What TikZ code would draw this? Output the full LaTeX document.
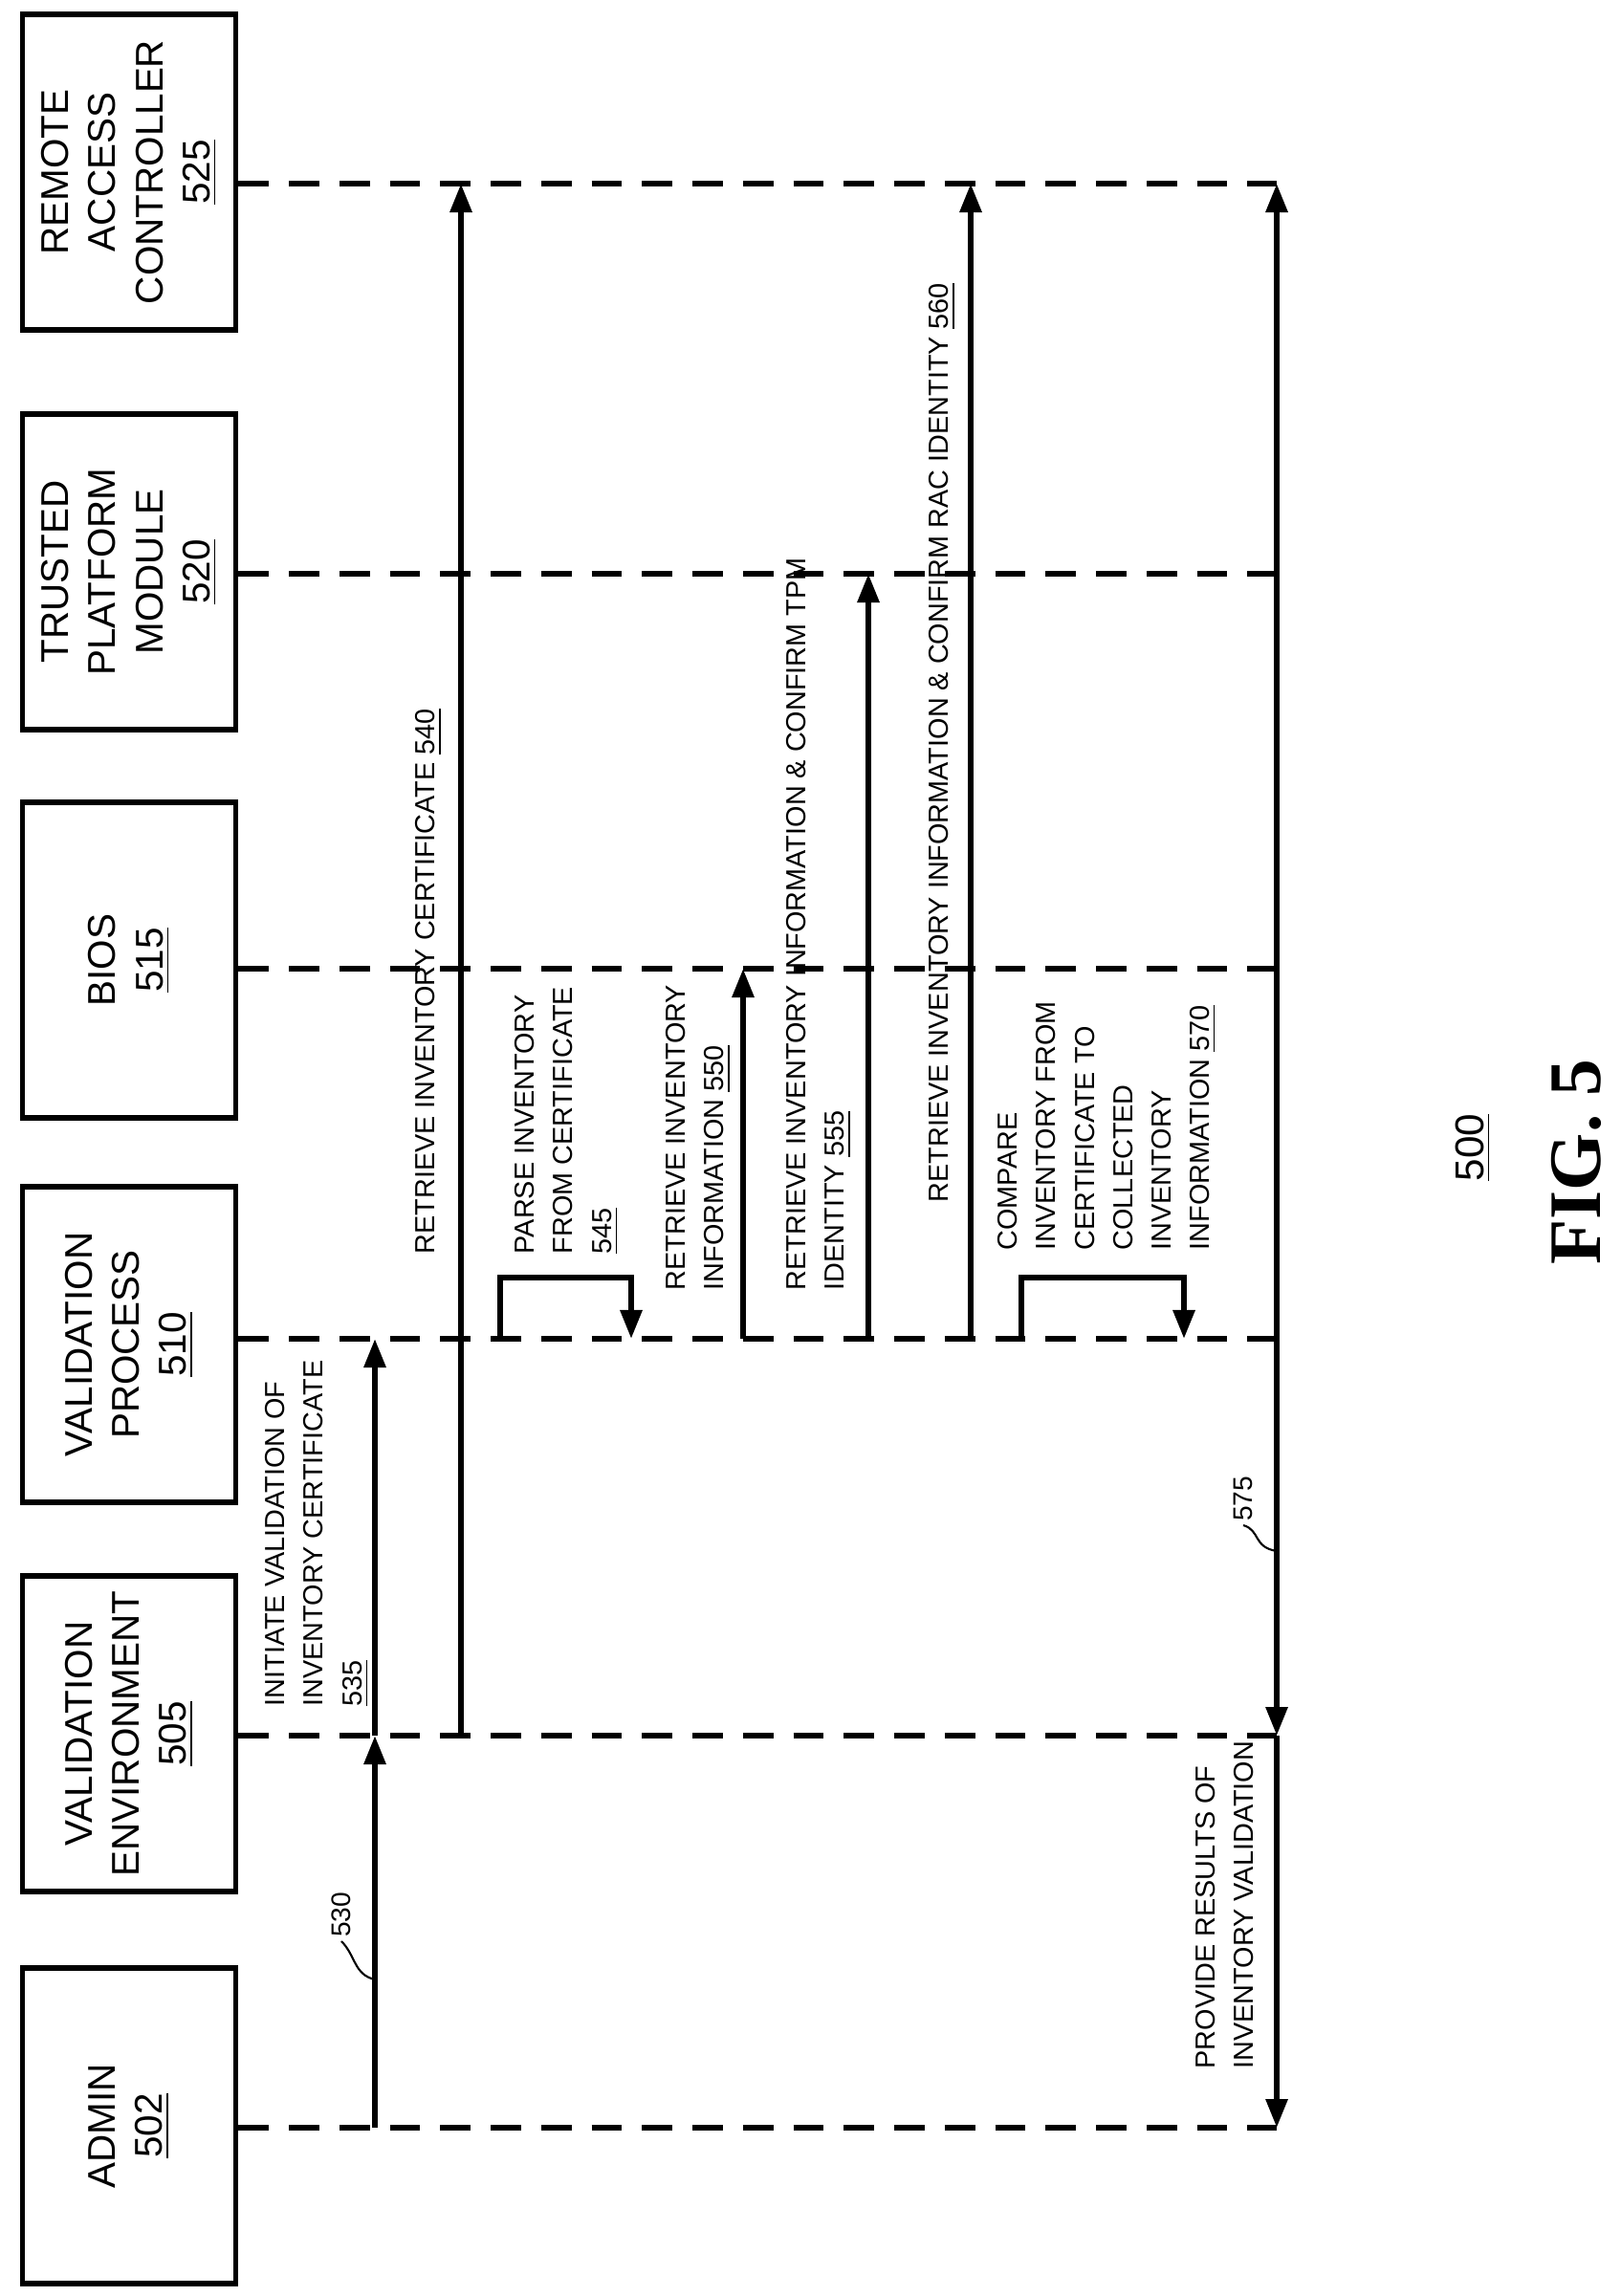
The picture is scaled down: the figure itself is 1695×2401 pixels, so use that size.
\documentclass[tikz,border=0pt]{standalone}
\usepackage{fontspec}
\setmainfont{Liberation Sans}
\newfontfamily\figfont{Liberation Serif}
\usetikzlibrary{arrows.meta,shadows}
\begin{document}
\begin{tikzpicture}[x=0.01cm, y=-0.01cm,
    box/.style={draw, fill=white, line width=1.6pt, rotate=90, minimum width=3.3cm, minimum height=2.23cm,
        align=center, inner sep=0pt, font=\fontsize{11.5}{14}\selectfont,
        drop shadow={shadow xshift=0.6pt, shadow yshift=0.6pt, fill=gray!60}},
    life/.style={dashed, line width=1.6pt, dash pattern=on 9pt off 6pt},
    msg/.style={line width=1.7pt, -{Triangle[length=0.3cm,width=0.22cm]}},
    lbl/.style={rotate=90, anchor=north west, align=left, inner sep=0pt,
        font=\fontsize{8.2}{11.4}\selectfont}]
    \path[use as bounding box] (0,0) rectangle (1695,2401);

    % Participants
    \node[box] (rac) at (135,180) {REMOTE\\ACCESS\\CONTROLLER\\\underline{525}};
    \node[box] (tpm) at (135,598) {TRUSTED\\PLATFORM\\MODULE\\\underline{520}};
    \node[box] (bios) at (135,1004) {BIOS\\\underline{515}};
    \node[box] (vp) at (135,1406) {VALIDATION\\PROCESS\\\underline{510}};
    \node[box] (ve) at (135,1813) {VALIDATION\\ENVIRONMENT\\\underline{505}};
    \node[box] (admin) at (135,2223) {ADMIN\\\underline{502}};

    % Lifelines
    \foreach \n/\y in {rac/192, tpm/600, bios/1013, vp/1400, ve/1815, admin/2225} {
        \coordinate (\n-end) at (1335,\y);
        \draw[life] (\n.south |- \n-end) -- (\n-end);
    }

    % Messages
    \coordinate (m530a) at (392,2225);
    \coordinate (m530b) at (392,1815);
    \coordinate (m535b) at (392,1400);
    \draw[msg] (m530a) -- (m530b);
    \draw[msg] (m530b) -- (m535b);
    \coordinate (m540a) at (482,1815);
    \coordinate (m540b) at (482,192);
    \draw[msg] (m540a) -- (m540b);
    \coordinate (m545a) at (523,1400);
    \coordinate (m545b) at (660,1400);
    \draw[msg] (m545a) -- ++(0,-64) -| (m545b);
    \coordinate (m550a) at (777,1400);
    \coordinate (m550b) at (777,1013);
    \draw[msg] (m550a) -- (m550b);
    \coordinate (m555a) at (908,1400);
    \coordinate (m555b) at (908,600);
    \draw[msg] (m555a) -- (m555b);
    \coordinate (m560a) at (1015,1400);
    \coordinate (m560b) at (1015,192);
    \draw[msg] (m560a) -- (m560b);
    \coordinate (m570a) at (1068,1400);
    \coordinate (m570b) at (1238,1400);
    \draw[msg] (m570a) -- ++(0,-64) -| (m570b);
    \draw[msg, {Triangle[length=0.3cm,width=0.22cm]}-{Triangle[length=0.3cm,width=0.22cm]}] (rac-end) -- (ve-end);
    \draw[msg] (ve-end) -- (admin-end);

    % Labels
    \node[lbl] (t535) at (277,1785) {INITIATE VALIDATION OF\\INVENTORY CERTIFICATE\\\underline{535}};
    \node[lbl] (t540) at (434,1312) {RETRIEVE INVENTORY CERTIFICATE \underline{540}};
    \node[lbl] (t545) at (538,1312) {PARSE INVENTORY\\FROM CERTIFICATE\\\underline{545}};
    \node[lbl] (t550) at (696,1350) {RETRIEVE INVENTORY\\INFORMATION \underline{550}};
    \node[lbl] (t555) at (822,1350) {RETRIEVE INVENTORY INFORMATION \& CONFIRM TPM\\IDENTITY \underline{555}};
    \node[lbl] (t560) at (971,1258) {RETRIEVE INVENTORY INFORMATION \& CONFIRM RAC IDENTITY \underline{560}};
    \node[lbl] (t570) at (1043,1308) {COMPARE\\INVENTORY FROM\\CERTIFICATE TO\\COLLECTED\\INVENTORY\\INFORMATION \underline{570}};
    \node[lbl] (t580) at (1250,2164) {PROVIDE RESULTS OF\\INVENTORY VALIDATION};

    % Reference numerals with leaders
    \node[rotate=90, anchor=west, inner sep=1pt, font=\fontsize{8}{10}\selectfont] (n530) at (357,2030) {530};
    \draw[line width=0.6pt] (392,2070) .. controls (370,2065) and (372,2045) .. (n530.west);
    \node[rotate=90, anchor=west, inner sep=1pt, font=\fontsize{8}{10}\selectfont] (n575) at (1300,1595) {575};
    \draw[line width=0.6pt] (1335,1622) .. controls (1310,1618) and (1318,1600) .. (n575.west);

    \node[rotate=90, font=\fontsize{12}{14}\selectfont] (n500) at (1540,1200) {\underline{500}};
    \node[rotate=90, font=\figfont\bfseries\fontsize{22}{26}\selectfont] (fig) at (1648,1215) {FIG. 5};
\end{tikzpicture}
\end{document}
